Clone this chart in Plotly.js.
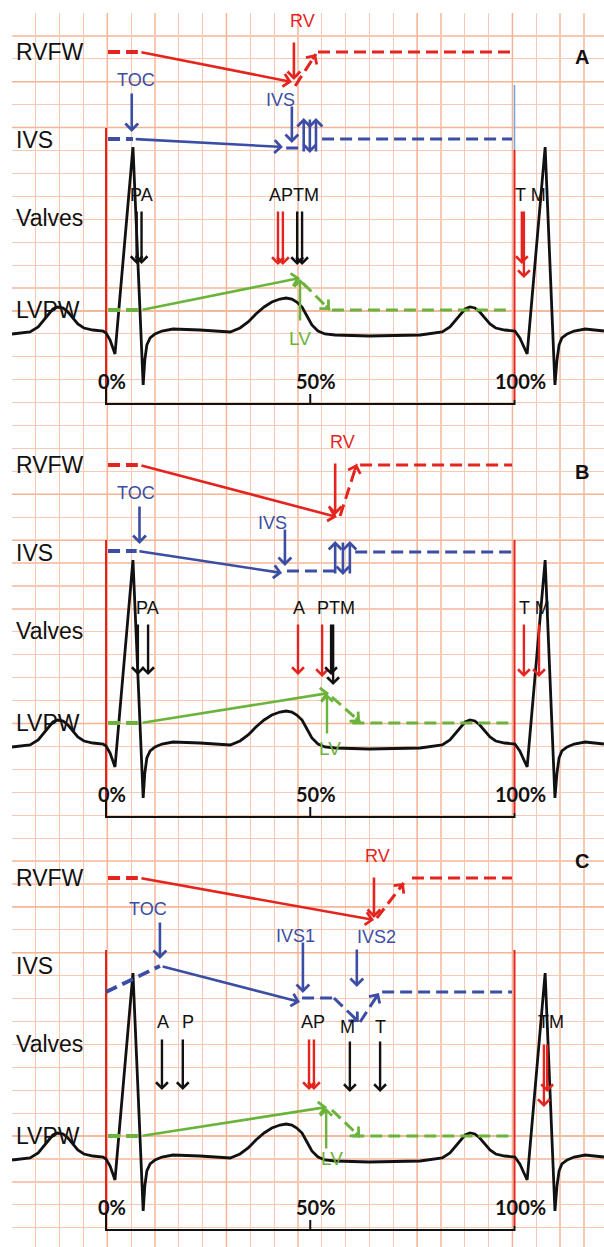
<!DOCTYPE html>
<html><head><meta charset="utf-8">
<script src="https://cdn.plot.ly/plotly-3.0.1.min.js"></script>
<style>html,body{margin:0;padding:0;background:#fff}#chart{width:604px;height:1247px}</style>
</head><body><div id="chart"></div>
<script>
// ================= DATA =================
const panels = ['A', 'B', 'C'];
const rowNames = ['RVFW', 'IVS', 'Valves', 'LVPW'];
const rowLevels = [52, 140, 218, 310];

// ECG trace: time (% of cardiac cycle) and trace height (panel units, downward)
const ecgTime = [-23.0,-20.6,-18.6,-16.6,-15.4,-14.2,-13.0,-11.8,-10.5,-9.3,-8.1,-6.9,-5.4,-3.2,-0.7,0,1.0,2.2,6.6,9.1,9.5,10.0,10.8,12.0,13.7,16.4,23.0,30.4,32.8,34.8,36.7,38.7,40.6,42.6,44.1,45.5,46.7,48.0,49.2,50.4,51.9,53.6,56.1,64.4,76.9,82.3,84.2,85.4,86.7,87.9,89.1,90.3,91.5,92.8,94.0,95.4,97.6,100.1,101.3,103.1,107.5,109.9,110.4,110.9,111.6,112.9,114.6,117.3,121.9];
const ecgLevel = [334,333,332,327,321,314,309,307,308,312,318,324,328,330,331,333,340,354,147,385,360,345,338,334,331,329,330,332,328,322,314,307,302,299,298,299,302,307,316,325,331,334,335,336,335,332,327,321,314,309,307,308,312,318,324,328,330,331,338,354,147,385,360,345,338,334,331,329,331];

const cycleTicks = [0, 50, 100];
const cycleTickText = ['0%', '50%', '100%'];

// RVFW
const onsetSpan = [0.5, 7.8];
const rvfwArrowFrom = [8.3, 8.3, 8.3];
const rvPeakTime = [45.5, 56.5, 65.6];
const rvPeakLevel = [82, 104, 94];
const rvMarkTime = [46.0, 56.1, 65.6];
const rvLabelTime = [48.1, 57.8, 66.5];
const rvLabelLevel = [21, 29, 30];
const rvRiseFromTime = [46.3, 57.3, 66.3];
const rvRiseFromLevel = [86, 103, 92];
const rvRiseToTime = [51.4, 61.4, 72.9];
const rvRiseToLevel = [54, 51, 57];
const rvPlateauFrom = [51.9, 62.2, 74.9];
const plateauEnd = 99.4;

// IVS
const ivsOnsetTime = [[0.5, 6.6], [0.5, 7.5], [0, 13.2]];
const ivsOnsetLevel = [[139, 139], [138, 138], [166, 140]];
const tocTime = [6.3, 8.2, 13.2];
const tocLabelTime = [7.3, 7.3, 10.2];
const tocLabelLevel = [80, 80, 83];
const ivsPeakTime = [43.3, 43.1, 47.5];
const ivsPeakLevel = [147, 160, 176];
const ivsMarkText = ['IVS', 'IVS', 'IVS1'];
const ivsMarkTime = [45.5, 43.8, 48.2];
const ivsMarkLabelTime = [42.8, 40.8, 46.5];
const ivsMarkLabelLevel = [100, 110, 110];
const ivsDelayTime = [[44.1, 48.0], [44.3, 55.8], [48.0, 55.8]];
const ivsDelayLevel = [148, 158, 172];
const ivsRockTime = [[48.4, 49.9, 51.4], [56.1, 58.0, 59.7]];   // panels A, B
const ivsRockDir = ['up', 'down', 'up'];
const ivsRockSpan = [[118, 153], [128, 162]];
const ivs2Time = [55.8, 61.9, 66.8];     // panel C: dip start, nadir, rebound
const ivs2Level = [172, 196, 167];
const ivs2MarkTime = 61.4;
const ivs2LabelTime = 66.3;
const ivsPlateauFrom = [52.9, 61.0, 67.6];
const ivsPlateauLevel = [139, 139, 166];

// Valves (black = opening, red = closure)
const valveLabels = [['PA', 'APTM', 'T M'], ['PA', 'A', 'PTM', 'T M'], ['A', 'P', 'AP', 'M', 'T', 'TM']];
const valveLabelTime = [[8.7, 45.9, 104.0], [10.2, 47.2, 56.3, 104.9], [14.0, 20.1, 50.6, 59.0, 67.3, 108.9]];
const valveLabelLevel = [[195, 195, 195], [195, 195, 195, 195], [196, 196, 196, 201, 201, 196]];
const valveEvent = ['open', 'open', 'close', 'close', 'open', 'open', 'close', 'close'];
const valveTime = [[7.5, 8.7, 42.1, 43.3, 46.8, 48.0, 101.8, 102.3], [7.8, 10.3, 47.0, 52.9, 55.1, 55.6, 102.3, 106.0], [13.7, 18.8, 49.7, 50.9, 59.7, 67.1, 107.2, 108.0]];
const valveFrom = [[210, 210, 210, 210, 210, 210, 210, 210], [210, 210, 210, 210, 210, 210, 210, 210], [212, 212, 212, 212, 214, 214, 217, 217]];
const valveTo = [[264, 264, 265, 265, 265, 265, 264, 278], [262, 262, 262, 264, 262, 272, 264, 264], [264, 264, 264, 264, 266, 266, 281, 266]];

// LVPW
const lvPeakTime = [47.5, 54.6, 54.1];
const lvPeakLevel = [278, 280, 281];
const lvMarkTime = [47.5, 54.1, 53.9];
const lvMarkFrom = [322, 322, 324];
const lvLabelTime = [47.5, 54.8, 55.3];
const lvLabelLevel = [338, 335, 332];
const lvRelaxFromTime = [48.2, 55.3, 55.3];
const lvRelaxFromLevel = [283, 284, 284];
const lvRelaxToTime = [54.8, 62.2, 62.2];
const lvRelaxToLevel = [310, 309, 311];
const lvPlateauFrom = [55.3, 60.3, 60.3];
const lvPlateauEnd = 99.1;

// cycle frame
const redTopStart = [128, 127, 124];
const redTopEnd = [150, 127, 124];
const panelLetterLevel = [57, 59, 35];

// ================= STYLE / LAYOUT =================
const W = 604, H = 1247, PH = 413, OFFS = [0, 413, 826];
const X0 = -106 / 4.085, X1 = (604 - 106) / 4.085;
const pxPerPct = W / (X1 - X0);
const RED = '#e4241e', BLUE = '#3b4ea3', GREEN = '#6bb33b', INK = '#111111', LBLUE = '#7aa6dc';
const SANS = 'Liberation Sans, Arial, sans-serif';
const DASH = '12px,6px';
const HEAD = 0.95;

const traces = [], annotations = [];
const yId = p => 'y' + (p + 2);

// grid subplot (x / y) – placeholder trace
traces.push({type: 'scatter', x: [], y: [], xaxis: 'x', yaxis: 'y', showlegend: false, hoverinfo: 'skip'});
// thicker paper lines
const thickV = [4, 9, 17, 21];
thickV.forEach(k => traces.push({type: 'scatter', mode: 'lines', xaxis: 'x', yaxis: 'y', x: [12 + 23.83 * k, 12 + 23.83 * k], y: [13, 1247],
  line: {color: '#f4b596', width: 1.5}, hoverinfo: 'skip', showlegend: false}));
const thickH = [3, 5, 13, 21, 23, 31, 39, 41, 49];
thickH.forEach(k => traces.push({type: 'scatter', mode: 'lines', xaxis: 'x', yaxis: 'y', x: [12, 604], y: [13 + 22.92 * k, 13 + 22.92 * k],
  line: {color: '#f4b596', width: 1.5}, hoverinfo: 'skip', showlegend: false}));

function line(p, ts, ls, color, width, dash) {
  traces.push({type: 'scatter', mode: 'lines', x: ts, y: ls, xaxis: 'x2', yaxis: yId(p),
    line: {color: color, width: width, dash: dash || 'solid'}, hoverinfo: 'skip', showlegend: false});
}
function arrow(p, t0, l0, t1, l1, color, width) {
  annotations.push({xref: 'x2', yref: yId(p), axref: 'x2', ayref: yId(p), x: t1, y: l1, ax: t0, ay: l0,
    text: '', showarrow: true, arrowhead: 4, arrowsize: HEAD, arrowwidth: width || 2.6, arrowcolor: color, standoff: 0, startstandoff: 0});
}
function dashedArrow(p, t0, l0, t1, l1, color, width) {
  line(p, [t0, t1], [l0, l1], color, width || 3, DASH);
  const dx = (t1 - t0) * pxPerPct, dy = (l1 - l0), len = Math.hypot(dx, dy);
  annotations.push({xref: 'x2', yref: yId(p), x: t1, y: l1, ax: -dx / len * 8, ay: -dy / len * 8,
    text: '', showarrow: true, arrowhead: 4, arrowsize: HEAD, arrowwidth: 2.6, arrowcolor: color, standoff: 0});
}
function label(p, t, l, text, color, size, extra) {
  annotations.push(Object.assign({xref: 'x2', yref: yId(p), x: t, y: l, text: text, showarrow: false,
    font: {family: SANS, size: size, color: color}, xanchor: 'center', yanchor: 'middle'}, extra || {}));
}

panels.forEach((name, p) => {
  // row labels
  rowNames.forEach((r, i) => label(p, -22.5, rowLevels[i], r, INK, 23, {xanchor: 'left'}));
  label(p, 116.5, panelLetterLevel[p], name, INK, 20, {font: {family: SANS, size: 20, color: INK, weight: 'bold'}});

  // cycle frame
  line(p, [0, 0], [redTopStart[p], 388], RED, 2);
  line(p, [100, 100], [redTopEnd[p], 400], RED, 2);
  if (p === 0) line(p, [100, 100], [85, 150], LBLUE, 1.6);
  line(p, [0, 0, 100, 100], [388, 404, 404, 400], INK, 2);
  line(p, [50, 50], [394, 404], INK, 2);
  cycleTicks.forEach((t, i) => label(p, t, 381, cycleTickText[i], INK, 20,
    {xshift: 6, font: {family: 'Lato, Liberation Sans, sans-serif', size: 20, color: INK, weight: 'bold'}}));

  // ECG
  line(p, ecgTime, ecgLevel, INK, 2.8);

  // RVFW
  line(p, onsetSpan, [rowLevels[0], rowLevels[0]], RED, 3.8, DASH);
  arrow(p, rvfwArrowFrom[p], rowLevels[0], rvPeakTime[p], rvPeakLevel[p], RED, 2.6);
  arrow(p, rvMarkTime[p], rvLabelLevel[p] + 20, rvMarkTime[p], rvPeakLevel[p] - 2, RED, 2.6);
  label(p, rvLabelTime[p], rvLabelLevel[p], 'RV', RED, 18);
  dashedArrow(p, rvRiseFromTime[p], rvRiseFromLevel[p], rvRiseToTime[p], rvRiseToLevel[p], RED, 3);
  line(p, [rvPlateauFrom[p], plateauEnd], [rowLevels[0], rowLevels[0]], RED, 3, DASH);

  // IVS
  line(p, ivsOnsetTime[p], ivsOnsetLevel[p], BLUE, 3.8, DASH);
  arrow(p, tocTime[p], tocLabelLevel[p] + 12, tocTime[p], ivsOnsetLevel[p][1] - 7, BLUE, 2.6);
  label(p, tocLabelTime[p], tocLabelLevel[p], 'TOC', BLUE, 18);
  arrow(p, ivsOnsetTime[p][1] + 0.3, ivsOnsetLevel[p][1], ivsPeakTime[p], ivsPeakLevel[p], BLUE, 2.6);
  label(p, ivsMarkLabelTime[p], ivsMarkLabelLevel[p], ivsMarkText[p], BLUE, 18);
  arrow(p, ivsMarkTime[p], ivsMarkLabelLevel[p] + 5, ivsMarkTime[p], ivsDelayLevel[p] - 5, BLUE, 2.6);
  line(p, ivsDelayTime[p], [ivsDelayLevel[p], ivsDelayLevel[p]], BLUE, 3, DASH);
  if (p < 2) {
    ivsRockTime[p].forEach((t, i) => {
      const [top, bot] = ivsRockSpan[p];
      if (ivsRockDir[i] === 'up') arrow(p, t, bot, t, top, BLUE, 2.6);
      else arrow(p, t, top, t, bot, BLUE, 2.6);
    });
  } else {
    dashedArrow(p, ivs2Time[0], ivs2Level[0], ivs2Time[1], ivs2Level[1], BLUE, 3);
    dashedArrow(p, ivs2Time[1] + 0.3, ivs2Level[1], ivs2Time[2], ivs2Level[2], BLUE, 3);
    label(p, ivs2LabelTime, 111, 'IVS2', BLUE, 18);
    arrow(p, ivs2MarkTime, 122, ivs2MarkTime, 161, BLUE, 2.6);
  }
  line(p, [ivsPlateauFrom[p], plateauEnd], [ivsPlateauLevel[p], ivsPlateauLevel[p]], BLUE, 3, DASH);

  // Valves
  valveLabels[p].forEach((v, i) => label(p, valveLabelTime[p][i], valveLabelLevel[p][i], v, INK, 18));
  valveTime[p].forEach((t, i) => arrow(p, t, valveFrom[p][i], t, valveTo[p][i],
    valveEvent[i] === 'open' ? INK : RED, 2.4));

  // LVPW
  line(p, onsetSpan, [rowLevels[3], rowLevels[3]], GREEN, 3.8, DASH);
  arrow(p, 8.6, rowLevels[3], lvPeakTime[p], lvPeakLevel[p], GREEN, 2.6);
  arrow(p, lvMarkTime[p], lvMarkFrom[p], lvMarkTime[p], lvPeakLevel[p] + 1, GREEN, 2.4);
  label(p, lvLabelTime[p], lvLabelLevel[p], 'LV', GREEN, 19);
  dashedArrow(p, lvRelaxFromTime[p], lvRelaxFromLevel[p], lvRelaxToTime[p], lvRelaxToLevel[p], GREEN, 3);
  line(p, [lvPlateauFrom[p], lvPlateauEnd], [rowLevels[3], rowLevels[3]], GREEN, 3, DASH);
});

const layout = {
  width: W, height: H, margin: {l: 0, r: 0, t: 0, b: 0},
  paper_bgcolor: '#ffffff', plot_bgcolor: 'rgba(0,0,0,0)', showlegend: false,
  xaxis: {domain: [12 / W, 1], range: [12, 604], tick0: 12, dtick: 23.83, showgrid: true, gridcolor: '#f7c9b2', gridwidth: 1.2,
    showticklabels: false, ticks: '', zeroline: false, showline: false, fixedrange: true},
  yaxis: {domain: [0, 1 - 13 / H], range: [1247, 13], tick0: 13, dtick: 22.92, showgrid: true, gridcolor: '#f7c9b2', gridwidth: 1.2,
    showticklabels: false, ticks: '', zeroline: false, showline: false, fixedrange: true},
  xaxis2: {domain: [0, 1], range: [X0, X1], visible: false, fixedrange: true, anchor: 'y2'},
  annotations: annotations
};
panels.forEach((n, p) => {
  layout['yaxis' + (p + 2)] = {domain: [1 - (OFFS[p] + PH) / H, 1 - OFFS[p] / H], range: [PH, 0], visible: false, fixedrange: true, anchor: 'x2'};
});

Plotly.newPlot('chart', traces, layout, {staticPlot: true, displayModeBar: false});
</script>
</body></html>
